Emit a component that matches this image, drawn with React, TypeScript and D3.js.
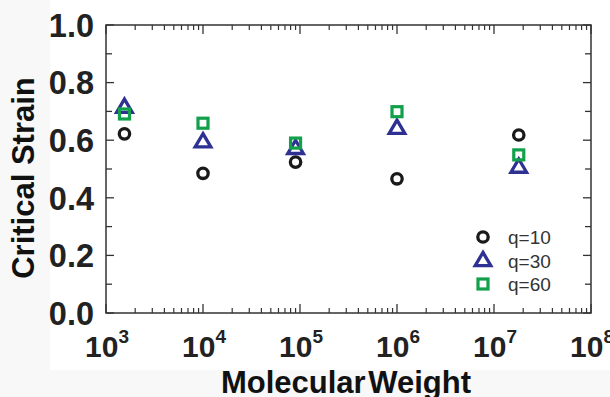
import React from "react";
import * as d3 from "d3";

const molWeights = [1550, 10000, 90000, 1000000, 18000000];
const q10 = [0.622, 0.485, 0.524, 0.466, 0.618];
const q30 = [0.713, 0.593, 0.57, 0.64, 0.505];
const q60 = [0.691, 0.659, 0.59, 0.699, 0.549];
const seriesNames = ["q=10", "q=30", "q=60"];
const yTicks = [0, 0.2, 0.4, 0.6, 0.8, 1.0];
const xDecades = [3, 4, 5, 6, 7, 8];

const W = 610;
const H = 397;
const M = { left: 106, right: 591, top: 25, bottom: 313 };
const axisColor = "#333";
const textColor = "#222";
const colors = ["#1a1a1a", "#2e3192", "#12a04a"];

export default function App() {
  const x = d3.scaleLog().domain([1e3, 1e8]).range([M.left, M.right]);
  const y = d3.scaleLinear().domain([0, 1]).range([M.bottom, M.top]);

  const minorY = d3.range(0, 1.0001, 0.1);
  const minorX: number[] = [];
  for (let d = 3; d < 8; d++) for (let k = 2; k <= 9; k++) minorX.push(k * Math.pow(10, d));

  const circle = (cx: number, cy: number, key: string) => (
    <circle key={key} cx={cx} cy={cy} r={5.2} fill="none" stroke={colors[0]} strokeWidth={3.3} />
  );
  const tri = (cx: number, cy: number, key: string) => {
    const s = 7.8;
    const p = d3.path();
    p.moveTo(cx, cy - s * 1.1);
    p.lineTo(cx + s, cy + s * 0.6);
    p.lineTo(cx - s, cy + s * 0.6);
    p.closePath();
    return <path key={key} d={p.toString()} fill="none" stroke={colors[1]} strokeWidth={3.3} strokeLinejoin="miter" />;
  };
  const sq = (cx: number, cy: number, key: string) => (
    <rect key={key} x={cx - 5} y={cy - 5} width={10} height={10} fill="none" stroke={colors[2]} strokeWidth={3.2} />
  );

  const legendX = 483;
  const legendY = [237, 261, 284];
  const markers = [circle, tri, sq];

  return (
    <svg width={W} height={H} style={{ position: "absolute", left: 0, top: 0 }} fontFamily="'Liberation Sans', Arial, sans-serif">
      <rect x={0} y={0} width={W} height={H} fill="#f8f8f8" />
      <rect x={50} y={0} width={W - 50} height={370} fill="#ffffff" />

      {/* frame */}
      <rect x={M.left} y={M.top} width={M.right - M.left} height={M.bottom - M.top} fill="none" stroke={axisColor} strokeWidth={1.5} />

      {/* y ticks */}
      {minorY.map((v, i) => {
        const len = i % 2 === 0 ? 8 : 6;
        return (
          <g key={"yt" + i}>
            <line x1={M.left} x2={M.left + len} y1={y(v)} y2={y(v)} stroke={axisColor} strokeWidth={1.3} />
            <line x1={M.right} x2={M.right - len} y1={y(v)} y2={y(v)} stroke={axisColor} strokeWidth={1.3} />
          </g>
        );
      })}
      {/* x ticks */}
      {xDecades.map((d) => (
        <g key={"xm" + d}>
          <line x1={x(Math.pow(10, d))} x2={x(Math.pow(10, d))} y1={M.bottom} y2={M.bottom - 9} stroke={axisColor} strokeWidth={1.3} />
          <line x1={x(Math.pow(10, d))} x2={x(Math.pow(10, d))} y1={M.top} y2={M.top + 9} stroke={axisColor} strokeWidth={1.3} />
        </g>
      ))}
      {minorX.map((v, i) => (
        <g key={"xn" + i}>
          <line x1={x(v)} x2={x(v)} y1={M.bottom} y2={M.bottom - 5} stroke={axisColor} strokeWidth={1.2} />
          <line x1={x(v)} x2={x(v)} y1={M.top} y2={M.top + 5} stroke={axisColor} strokeWidth={1.2} />
        </g>
      ))}

      {/* y tick labels */}
      {yTicks.map((v) => (
        <text key={"yl" + v} x={94} y={y(v)} dy="0.36em" textAnchor="end" fontSize={32.5} fontWeight="bold" fill={textColor}>
          {v.toFixed(1)}
        </text>
      ))}
      {/* x tick labels */}
      {xDecades.map((d) => (
        <text key={"xl" + d} x={x(Math.pow(10, d)) + 1} y={357} textAnchor="middle" fontSize={30} fontWeight="bold" fill={textColor}>
          10
          <tspan fontSize={19} dy={-14}>{d}</tspan>
        </text>
      ))}

      {/* axis titles */}
      <text x={346} y={393} textAnchor="middle" fontSize={31} fontWeight="bold" fill="#111" wordSpacing={-6}>
        Molecular Weight
      </text>
      <text transform={`translate(34,178) rotate(-90)`} textAnchor="middle" fontSize={31} fontWeight="bold" fill="#111">
        Critical Strain
      </text>

      {/* data */}
      {q10.map((v, i) => circle(x(molWeights[i]), y(v), "c" + i))}
      {q30.map((v, i) => tri(x(molWeights[i]), y(v), "t" + i))}
      {q60.map((v, i) => sq(x(molWeights[i]), y(v), "s" + i))}

      {/* legend */}
      {seriesNames.map((name, i) => (
        <g key={"lg" + i}>
          {markers[i](legendX, legendY[i], "lm" + i)}
          <text x={508} y={legendY[i]} dy="0.36em" fontSize={19} fill="#333">
            {name}
          </text>
        </g>
      ))}
    </svg>
  );
}
